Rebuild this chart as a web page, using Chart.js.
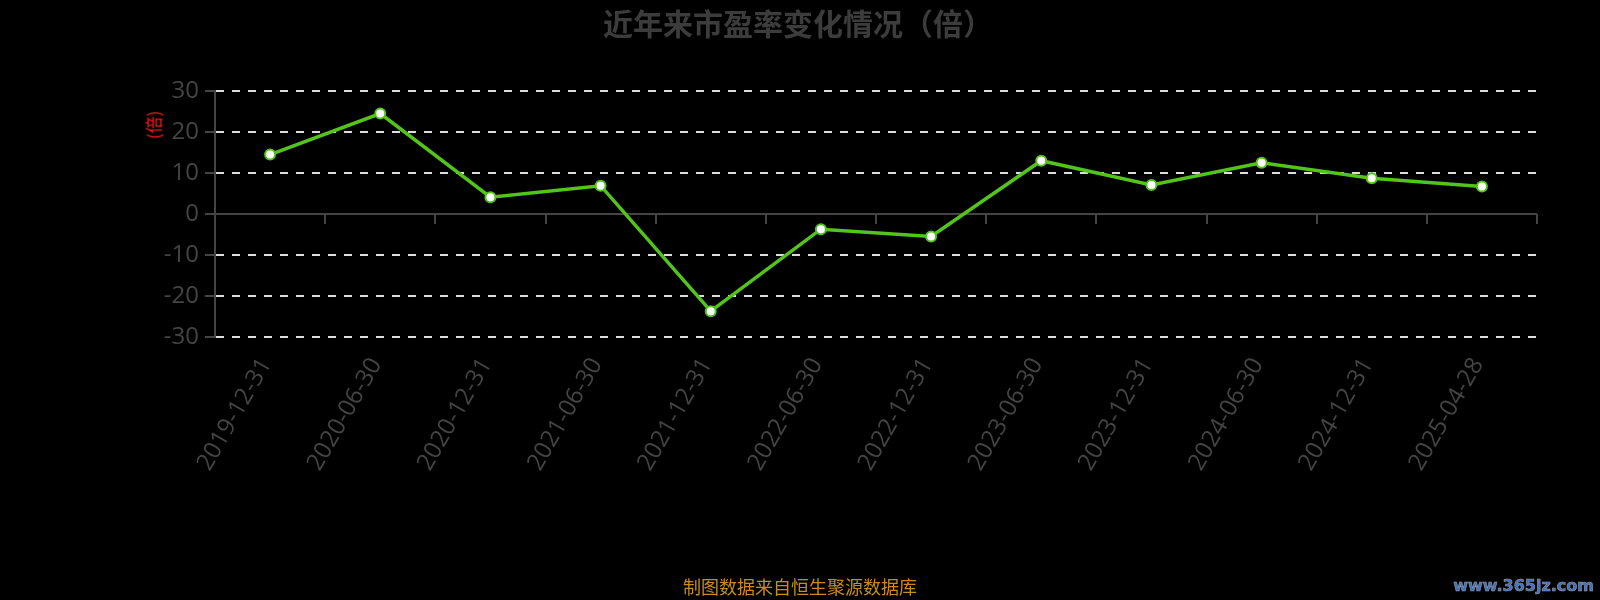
<!DOCTYPE html>
<html>
<head>
<meta charset="utf-8">
<script src="https://cdn.jsdelivr.net/npm/chart.js@4.4.1/dist/chart.umd.min.js"></script>
<style>
  html, body { margin: 0; padding: 0; background: #000; }
  .wrap { position: relative; width: 1600px; height: 600px; }
  #peChart { display: block; }
  .title {
    position: absolute; left: 798px; top: 22px; transform: translate(-50%, -50%);
    color: #3c3c3c; font: bold 30px "Noto Sans CJK SC", sans-serif; white-space: nowrap;
  }
  .ylabel {
    position: absolute; left: 153px; top: 125px;
    transform: translate(-50%, -50%) rotate(-90deg);
    color: #ff1a1a; font: 17px "Noto Sans CJK SC", sans-serif; white-space: nowrap;
  }
  .source {
    position: absolute; left: 0; width: 1600px; top: 574px; text-align: center;
    color: #c88c1e; font: 18px "Noto Sans CJK SC", sans-serif; line-height: 24px;
  }
  .mark {
    position: absolute; right: 6px; top: 576px;
    color: #3f70c4; font: bold 16px "DejaVu Sans", sans-serif; line-height: 20px;
    -webkit-text-stroke: 0.6px #9a9a9a;
  }
</style>
</head>
<body>
<div class="wrap">
  <canvas id="peChart" width="1600" height="600"></canvas>
  <div class="title">近年来市盈率变化情况（倍）</div>
  <div class="ylabel">(倍)</div>
  <div class="source">制图数据来自恒生聚源数据库</div>
  <div class="mark">www.365jz.com</div>
</div>
<script>
const reportDates = ["2019-12-31", "2020-06-30", "2020-12-31", "2021-06-30", "2021-12-31", "2022-06-30",
  "2022-12-31", "2023-06-30", "2023-12-31", "2024-06-30", "2024-12-31", "2025-04-28"];
const peValues = [14.5, 24.5, 4.1, 6.9, -23.7, -3.7, -5.5, 13.0, 7.1, 12.5, 8.7, 6.7];
const yTicks = [-30, -20, -10, 0, 10, 20, 30];

const axisGray = "#444444";

// solid zero line with little ticks under it, like the original
const zeroLine = {
  id: "zeroLine",
  beforeDatasetsDraw(chart) {
    const x = chart.scales.x;
    const y = chart.scales.y;
    const ctx = chart.ctx;
    const y0 = y.getPixelForValue(0);
    ctx.save();
    ctx.strokeStyle = axisGray;
    ctx.lineWidth = 2;
    ctx.beginPath();
    ctx.moveTo(chart.chartArea.left, y0);
    ctx.lineTo(chart.chartArea.right, y0);
    for (let i = 0; i <= reportDates.length; i++) {
      const px = Math.round(x.getPixelForValue(i - 0.5));
      ctx.moveTo(px, y0);
      ctx.lineTo(px, y0 + 10);
    }
    ctx.stroke();
    ctx.restore();
  },
};

const ctx = document.getElementById("peChart").getContext("2d");
new Chart(ctx, {
  type: "line",
  data: {
    labels: reportDates,
    datasets: [
      {
        label: "市盈率",
        data: peValues,
        borderColor: "#52c41a",
        borderWidth: 3.5,
        pointBackgroundColor: "#ffffff",
        pointBorderColor: "#52c41a",
        pointBorderWidth: 2,
        pointRadius: 5,
        tension: 0,
      },
    ],
  },
  options: {
    responsive: false,
    animation: false,
    layout: { padding: { left: 0, right: 63, top: 91, bottom: 0 } },
    plugins: {
      legend: { display: false },
      tooltip: { enabled: false },
      title: { display: false },
    },
    scales: {
      x: {
        offset: true,
        grid: { display: false },
        border: { display: false },
        afterFit: (s) => { s.height = 263; },
        ticks: {
          color: axisGray,
          font: { family: "Open Sans", size: 24 },
          minRotation: 60,
          maxRotation: 60,
          autoSkip: false,
          padding: 8,
          labelOffset: -4,
        },
      },
      y: {
        min: -30,
        max: 30,
        afterFit: (s) => { s.width = 215; },
        afterBuildTicks: (s) => { s.ticks = yTicks.map((v) => ({ value: v })); },
        border: { color: axisGray, width: 2, dash: [8, 8] },
        grid: {
          color: (c) => (c.tick && c.tick.value === 0 ? "rgba(0,0,0,0)" : "#dddddd"),
          lineWidth: 2,
          tickColor: axisGray,
          tickLength: 10,
          tickBorderDash: [],
        },
        ticks: {
          color: axisGray,
          font: { family: "Open Sans", size: 24 },
          padding: 6,
        },
      },
    },
  },
  plugins: [zeroLine],
});
</script>
</body>
</html>
